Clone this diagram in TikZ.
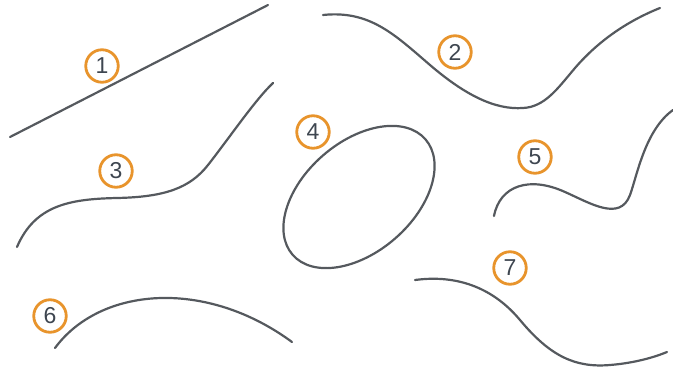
\documentclass[tikz,border=0pt]{standalone}
\usepackage{fontspec}
\setmainfont{Liberation Sans}
\definecolor{curvegray}{HTML}{55595E}
\definecolor{lblorange}{HTML}{E8942C}
\definecolor{numgray}{HTML}{3E4650}
\begin{document}
\begin{tikzpicture}[x=1pt,y=-1pt,
  curve/.style={draw=curvegray,line width=2.2pt,line cap=round},
  lbl/.style={circle,draw=lblorange,line width=2.8pt,fill=white,minimum size=32.5pt,inner sep=0pt,
    text=numgray,font=\fontsize{23}{23}\selectfont}]
\useasboundingbox (0,0) rectangle (673,367);
% 1
\draw[curve] (10,137) -- (268,5);
% 2
\draw[curve] (323,15) .. controls (370,10) and (395,35) .. (430,65)
  .. controls (465,95) and (495,110) .. (523,108)
  .. controls (545,107) and (558,88) .. (575,68)
  .. controls (600,39) and (630,20) .. (660,8);
% 3
\draw[curve] (17,247) .. controls (35,205) and (70,199) .. (117,198)
  .. controls (165,197) and (190,188) .. (208,165)
  .. controls (230,137) and (255,100) .. (273,83);
% 4
\draw[curve] (359,197) circle[x radius=88,y radius=55,rotate=41];
% 5
\draw[curve] (494,216) .. controls (500,185) and (530,176) .. (565,192)
  .. controls (590,203) and (620,222) .. (630,195)
  .. controls (637,176) and (645,130) .. (673,110);
% 6
\draw[curve] (55,348) .. controls (100,287) and (205,278) .. (292,342);
% 7
\draw[curve] (415,280) .. controls (460,274) and (495,290) .. (520,320)
  .. controls (550,356) and (575,368) .. (610,365)
  .. controls (635,363) and (655,357) .. (667,352);
% labels
\node[lbl] (l1) at (102,66) {1};
\node[lbl] (l2) at (455,52) {2};
\node[lbl] (l3) at (116,171) {3};
\node[lbl] (l4) at (313,132) {4};
\node[lbl] (l5) at (535,157) {5};
\node[lbl] (l6) at (50,316) {6};
\node[lbl] (l7) at (510,268) {7};
\end{tikzpicture}
\end{document}
